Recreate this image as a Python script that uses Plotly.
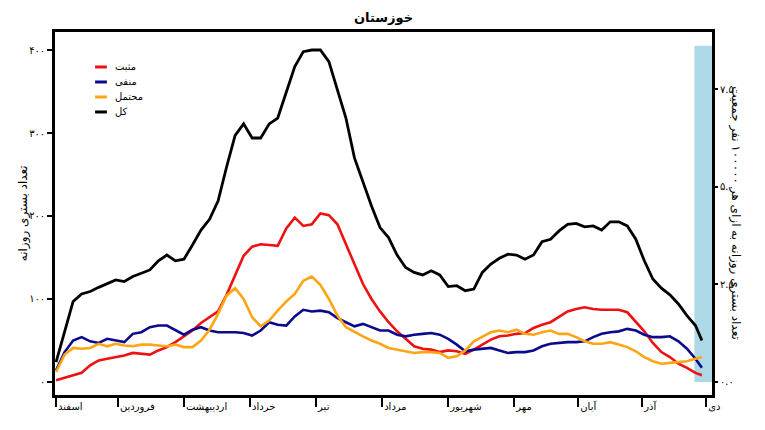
# coding: utf-8
import pandas as pd
import plotly.graph_objs as go

# روزهای نمونه‌برداری نسبت به ۱ اسفند ۱۳۹۸ (2020-02-20)
start_date = "2020-02-20"
day_offsets = list(range(0, 301, 4)) + [303]

total = [24, 60, 97, 106, 109, 114, 119, 123, 121, 127,
         131, 135, 146, 153, 146, 148, 165, 183, 196, 218,
         259, 297, 311, 294, 294, 311, 318, 350, 380, 398,
         400, 400, 386, 352, 318, 270, 240, 212, 186, 174,
         153, 138, 132, 129, 134, 129, 115, 116, 110, 112,
         132, 142, 149, 154, 153, 148, 153, 169, 172, 182,
         190, 191, 187, 188, 183, 193, 193, 188, 172, 146,
         124, 113, 105, 94, 80, 68, 50]

positive = [2, 5, 8, 11, 20, 26, 28, 30, 32, 35,
            34, 33, 38, 42, 48, 55, 62, 71, 78, 85,
            105, 128, 152, 163, 166, 165, 164, 185, 198, 188,
            190, 203, 201, 190, 166, 140, 118, 100, 85, 72,
            61, 52, 43, 40, 39, 36, 38, 37, 34, 39,
            45, 51, 55, 56, 58, 59, 65, 69, 72, 79,
            85, 88, 90, 88, 87, 87, 87, 84, 73, 61,
            47, 36, 30, 22, 17, 11, 8]

negative = [14, 36, 50, 54, 49, 47, 52, 50, 48, 58,
            60, 66, 68, 68, 63, 57, 63, 66, 62, 60,
            60, 60, 59, 56, 62, 72, 69, 68, 79, 87,
            85, 86, 84, 77, 72, 67, 70, 66, 62, 62,
            57, 55, 57, 58, 59, 57, 52, 45, 37, 39,
            40, 41, 38, 35, 36, 36, 38, 43, 46, 47,
            48, 48, 49, 54, 58, 60, 61, 64, 62, 57,
            54, 54, 55, 49, 40, 28, 17]

probable = [12, 33, 41, 40, 41, 46, 43, 46, 44, 43,
            45, 45, 44, 43, 45, 42, 42, 50, 63, 82,
            104, 113, 100, 78, 67, 74, 86, 97, 106, 122,
            127, 117, 100, 80, 66, 60, 55, 50, 46, 41,
            39, 37, 35, 36, 36, 35, 29, 31, 38, 49,
            55, 60, 62, 60, 63, 58, 57, 60, 62, 58,
            58, 54, 49, 46, 46, 48, 45, 42, 37, 30,
            25, 22, 23, 24, 25, 28, 30]

# ماه‌های شمسی و تاریخ میلادی شروع هر ماه
month_names = ["اسفند", "فروردین", "اردیبهشت", "خرداد", "تیر", "مرداد",
               "شهریور", "مهر", "آبان", "آذر", "دی"]
month_starts = ["2020-02-20", "2020-03-20", "2020-04-20", "2020-05-21",
                "2020-06-21", "2020-07-22", "2020-08-22", "2020-09-22",
                "2020-10-22", "2020-11-21", "2020-12-21"]

left_ticks = [0, 100, 200, 300, 400]
left_labels = ["۰", "۱۰۰", "۲۰۰", "۳۰۰", "۴۰۰"]
right_ticks = [0, 2.5, 5, 7.5]
right_labels = ["۰.۰", "۲.۵", "۵.۰", "۷.۵"]

population = 4700000  # جمعیت تقریبی خوزستان
y_range = [-15.7, 421.7]
x_range = ["2020-02-19 12:00", "2020-12-23 18:00"]
# بازه داده‌های ناقص (نوار آبی)
shade_start, shade_end, shade_top = "2020-12-15 12:00", "2020-12-23 18:00", 405

dates = pd.to_datetime(start_date) + pd.to_timedelta(day_offsets, unit="D")
font_name = "DejaVu Sans"

series = [
    ("مثبت", positive, "#ee1111", 2.6),
    ("منفی", negative, "#0a0a8c", 2.6),
    ("محتمل", probable, "#ffa514", 2.6),
    ("کل", total, "black", 2.8),
]

data = []
for name, vals, color, width in series:
    data.append(go.Scatter(x=dates, y=vals, mode="lines", name=name,
                           line=dict(color=color, width=width),
                           showlegend=False))

# سری نرمال‌شده به ازای ۱۰۰۰۰۰ نفر روی محور راست (نامرئی)
scale = 100000.0 / population
data.append(go.Scatter(x=dates, y=[v * scale for v in total], yaxis="y2",
                       mode="lines", line=dict(color="rgba(0,0,0,0)"),
                       showlegend=False, hoverinfo="skip"))

shapes = [dict(type="rect", xref="x", yref="y", layer="below",
               x0=shade_start, x1=shade_end, y0=0, y1=shade_top,
               fillcolor="#add8e6", line=dict(width=0))]

annotations = [
    dict(text="تعداد بستری روزانه", xref="paper", yref="paper",
         x=-0.062, y=0.5, textangle=-90, showarrow=False,
         font=dict(size=12)),
    dict(text="تعداد بستری روزانه به ازای هر ۱۰۰۰۰۰ نفر جمعیت",
         xref="paper", yref="paper", x=1.05, y=0.5, textangle=90,
         showarrow=False, font=dict(size=12)),
]

# راهنمای دستی (فاصله ردیف‌ها کمتر از legend خود plotly)
leg_y = 0.9036
for name, vals, color, width in series:
    shapes.append(dict(type="line", xref="paper", yref="paper",
                       x0=0.061, x1=0.079, y0=leg_y, y1=leg_y,
                       line=dict(color=color, width=3)))
    annotations.append(dict(text=name, xref="paper", yref="paper",
                            x=0.088, y=leg_y, xanchor="left",
                            yanchor="middle", showarrow=False,
                            font=dict(size=10)))
    leg_y -= 0.0413

layout = go.Layout(
    width=765, height=430,
    margin=dict(l=47, r=61, t=24, b=43),
    paper_bgcolor="white", plot_bgcolor="white",
    font=dict(family=font_name, size=10, color="black"),
    title=dict(text="<b>خوزستان</b>", x=0.5, xref="paper", y=0.977,
               yanchor="middle", font=dict(size=13)),
    xaxis=dict(type="date", range=x_range, tickvals=month_starts,
               ticktext=month_names, ticks="outside", ticklen=9,
               tickwidth=1.5, tickcolor="black",
               ticklabelposition="outside right",
               showline=True, linecolor="black", linewidth=2.5,
               mirror=True, showgrid=False, zeroline=False,
               tickfont=dict(size=10)),
    yaxis=dict(range=y_range, tickvals=left_ticks, ticktext=left_labels,
               ticks="outside", ticklen=5, tickwidth=1.5, tickcolor="black",
               showline=True, linecolor="black", linewidth=2.5,
               mirror=True, showgrid=False, zeroline=False),
    yaxis2=dict(range=[v * scale for v in y_range], overlaying="y",
                side="right", tickvals=right_ticks, ticktext=right_labels,
                ticks="outside", ticklen=5, tickwidth=1.5, tickcolor="black",
                showline=False, showgrid=False, zeroline=False),
    shapes=shapes,
    annotations=annotations,
)

fig = go.Figure(data=data, layout=layout)
fig.write_html("out.html")
